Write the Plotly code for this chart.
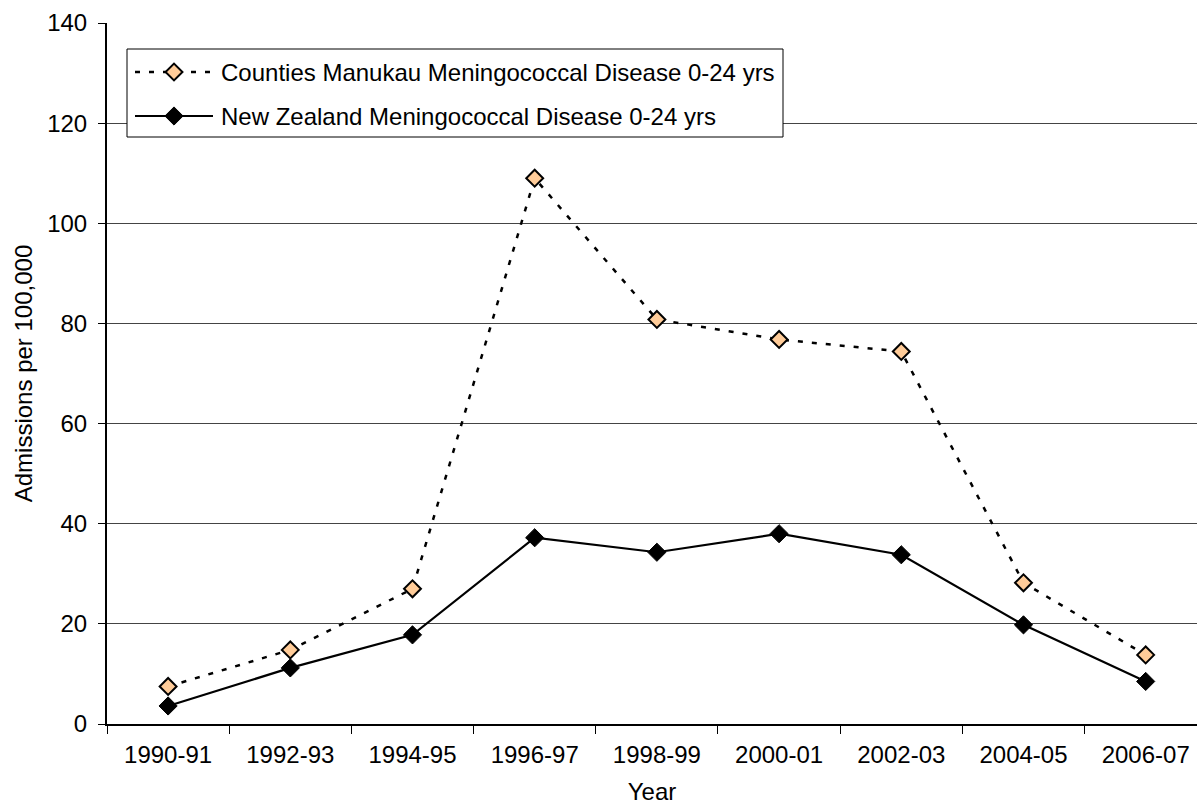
import plotly.graph_objects as go

# Hospital admissions for meningococcal disease, ages 0-24, per 100,000
years = ["1990-91", "1992-93", "1994-95", "1996-97", "1998-99",
         "2000-01", "2002-03", "2004-05", "2006-07"]
counties_manukau = [7.5, 14.8, 27.0, 109.0, 80.8, 76.8, 74.4, 28.2, 13.8]
new_zealand = [3.6, 11.2, 17.8, 37.2, 34.3, 38.0, 33.8, 19.8, 8.5]
series_names = ["Counties Manukau Meningococcal Disease 0-24 yrs",
                "New Zealand Meningococcal Disease 0-24 yrs"]

FONT = "Liberation Sans, Arial, sans-serif"
W, H = 1197, 805
ML, MR, MT, MB = 107, 0, 23, 81
X_RANGE = [-0.5, 8.42]
Y_RANGE = [0, 140]

cm_line = dict(color="black", width=2.5, dash="5px,9px")
cm_marker = dict(symbol="diamond", size=13, color="#FFCC99",
                 line=dict(color="black", width=2))
nz_line = dict(color="black", width=2.2)
nz_marker = dict(symbol="diamond", size=14, color="black",
                 line=dict(color="black", width=1))

fig = go.Figure()
fig.add_trace(go.Scatter(x=years, y=counties_manukau, mode="lines+markers",
                         name=series_names[0], line=cm_line, marker=cm_marker))
fig.add_trace(go.Scatter(x=years, y=new_zealand, mode="lines+markers",
                         name=series_names[1], line=nz_line, marker=nz_marker))


# Legend is laid out in page pixels; convert to main-axis units for shapes
def px_to_x(px):
    span = X_RANGE[1] - X_RANGE[0]
    return X_RANGE[0] + (px - ML) * span / (W - MR - ML)


def px_to_y(py):
    span = Y_RANGE[1] - Y_RANGE[0]
    return Y_RANGE[0] + (H - MB - py) * span / (H - MB - MT)


box_x0, box_x1, box_y0, box_y1 = 127, 783, 49, 137
rows_y = [72, 116]
sym_x0, sym_x1, sym_xc, text_x = 135, 213, 174, 219

# Legend markers on an overlay axis measured in page pixels
fig.add_trace(go.Scatter(
    x=[sym_xc], y=[rows_y[0]], xaxis="x2", yaxis="y2", mode="markers",
    marker=cm_marker, showlegend=False, hoverinfo="skip"))
fig.add_trace(go.Scatter(
    x=[sym_xc], y=[rows_y[1]], xaxis="x2", yaxis="y2", mode="markers",
    marker=nz_marker, showlegend=False, hoverinfo="skip"))

shapes = [
    dict(type="rect", xref="x", yref="y",
         x0=px_to_x(box_x0), x1=px_to_x(box_x1),
         y0=px_to_y(box_y0), y1=px_to_y(box_y1),
         line=dict(color="black", width=1), fillcolor="white",
         layer="between"),
]
for ry, ln in zip(rows_y, [cm_line, nz_line]):
    shapes.append(dict(type="line", xref="x", yref="y",
                       x0=px_to_x(sym_x0), x1=px_to_x(sym_x1),
                       y0=px_to_y(ry), y1=px_to_y(ry),
                       line=ln, layer="between"))

annotations = [
    dict(xref="x2", yref="y2", x=text_x, y=ry, text=name, showarrow=False,
         xanchor="left", yanchor="middle",
         font=dict(family=FONT, size=24, color="black"))
    for ry, name in zip(rows_y, series_names)
]

fig.update_layout(
    width=W, height=H,
    margin=dict(l=ML, r=MR, t=MT, b=MB),
    paper_bgcolor="white", plot_bgcolor="white",
    font=dict(family=FONT, size=24, color="black"),
    showlegend=False,
    shapes=shapes, annotations=annotations,
    xaxis=dict(
        type="category", range=X_RANGE,
        tickson="boundaries", ticks="outside", ticklen=8, tickwidth=1,
        tickcolor="black", showline=True, linecolor="black", linewidth=1.5,
        showgrid=False, zeroline=False, ticklabelstandoff=8,
        tickfont=dict(family=FONT, size=24, color="black"),
        title=dict(text="Year", font=dict(family=FONT, size=24), standoff=20),
    ),
    yaxis=dict(
        range=Y_RANGE, dtick=20, ticks="outside", ticklen=7, tickwidth=1,
        tickcolor="black", showline=True, linecolor="black", linewidth=2,
        showgrid=True, gridcolor="#444444", gridwidth=1, zeroline=False,
        ticklabelstandoff=6,
        tickfont=dict(family=FONT, size=24, color="black"),
        title=dict(text="Admissions per 100,000",
                   font=dict(family=FONT, size=24), standoff=8),
    ),
    xaxis2=dict(overlaying="x", range=[ML, W - MR], visible=False,
                fixedrange=True),
    yaxis2=dict(overlaying="y", range=[H - MB, MT], visible=False,
                fixedrange=True),
)

fig.write_html("out.html")
